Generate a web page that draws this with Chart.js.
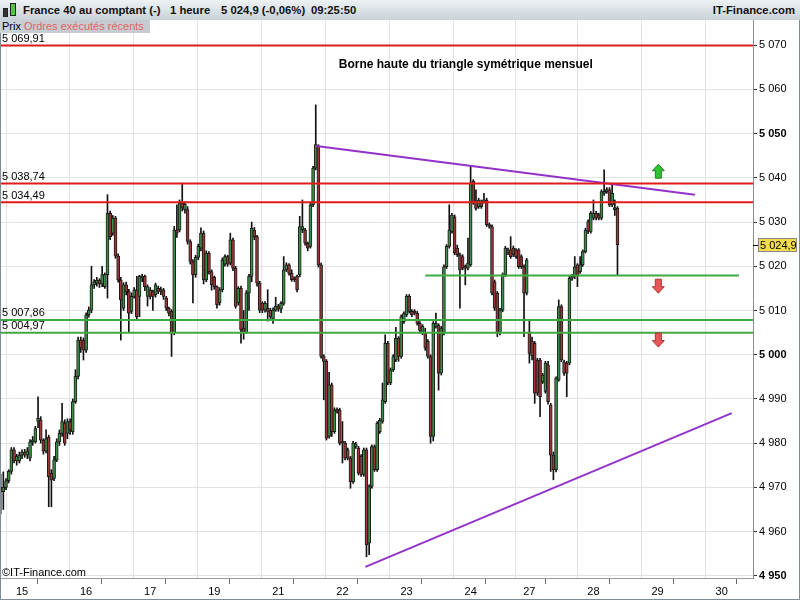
<!DOCTYPE html>
<html>
<head>
<meta charset="utf-8">
<script src="https://cdn.jsdelivr.net/npm/chart.js@4.4.0/dist/chart.umd.min.js"></script>
<style>
  html, body { margin: 0; padding: 0; background: #fff; overflow: hidden; }
  #wrap { position: relative; width: 800px; height: 600px; font-family: "Liberation Sans", Arial, sans-serif; }
  #c { position: absolute; left: 0; top: 0; }
  #head { position: absolute; left: 0; top: 0; width: 800px; height: 20px;
          background: linear-gradient(#eef2f4, #c8d2d8); font-size: 11.3px; font-weight: bold; color: #111; }
  #head span { position: absolute; top: 4px; white-space: nowrap; }
  .ic { position: absolute; border: 1px solid #222; }
  #tabs { position: absolute; left: 0; top: 20px; height: 13px; font-size: 11px; line-height: 13px; }
  #tabs span { position: absolute; top: 0; height: 13px; padding: 0 2px; white-space: nowrap; }
  #copy { position: absolute; left: 2px; top: 566px; font-size: 11px; color: #000; }
</style>
</head>
<body>
<div id="wrap">
  <canvas id="c" width="800" height="600"></canvas>
  <div id="head">
    <div class="ic" style="left:3px;top:8px;width:3px;height:7px;background:#333"></div>
    <div class="ic" style="left:10px;top:3px;width:4px;height:11px;background:#5ac24a"></div>
    <span style="left:23px">France 40 au comptant (-)</span>
    <span style="left:170px">1 heure</span>
    <span style="left:221px">5 024,9 (-0,06%)</span>
    <span style="left:311px">09:25:50</span>
    <span style="right:5px">IT-Finance.com</span>
  </div>
  <div id="tabs">
    <span style="left:0;width:18px;background:#c9d2d9;border-right:1px solid #9aa6ae;color:#000">Prix</span>
    <span style="left:22px;width:124px;background:#c6ccd2;color:#e06666">Ordres exécutés récents</span>
  </div>
  <div id="copy">©IT-Finance.com</div>
</div>
<script>
// France 40, 1 heure - une bougie par heure
var open = [
  4970, 4969, 4970, 4971.5, 4973.6, 4978.5, 4976, 4976, 4977.3, 4978,
  4977.3, 4976.6, 4980.3, 4980.3, 4984.9, 4985.2, 4980.7, 4978.2, 4981.3, 4973.2,
  4972, 4976.2, 4980.3, 4982.2, 4984.5, 4982.2, 4984.9, 4982.6, 4989.4, 4995.1,
  5003.3, 5003.3, 5001, 5009, 5010.1, 5015.8, 5016.2, 5016.8, 5016, 5015.4,
  5018.1, 5032, 5027.5, 5030.9, 5022.3, 5016.9, 5010.5, 5015.8, 5014.3, 5009.8,
  5013.2, 5014.7, 5013.2, 5017.3, 5017.7, 5013.2, 5014.7, 5014.3, 5013.5, 5015,
  5014.3, 5014.7, 5012.8, 5010.5, 5009.8, 5005, 5028.2, 5028.2, 5034.3, 5032.8,
  5032.8, 5025.6, 5021, 5018.1, 5022, 5024.1, 5027.5, 5016.9, 5023, 5018.8,
  5017.5, 5015.4, 5011.7, 5014.7, 5020.5, 5022.2, 5020.7, 5026, 5019.6, 5011.7,
  5015, 5006, 5005, 5014, 5017.7, 5028.2, 5026.7, 5016.2, 5011.6, 5010.1,
  5010.5, 5010.1, 5008.1, 5010.1, 5011, 5010.3, 5011.6, 5019.2, 5020.3, 5018.4,
  5017.3, 5017.7, 5018.1, 5028.3, 5028.2, 5025.2, 5024.5, 5033.9, 5042.2, 5047.2,
  5020.3, 4999.6, 4998.5, 4981.5, 4993.2, 4982.6, 4987.5, 4987.5, 4980.3, 4980,
  4978.5, 4976.6, 4971.3, 4979.2, 4978.9, 4977, 4972.9, 4978.5, 4957.4, 4970.2,
  4979.2, 4974, 4982.6, 4984.9, 4989.4, 5002.6, 4993.6, 4996.6, 4998.8, 5003.7,
  4999.6, 5007.5, 5009, 5013.2, 5009.8, 5009.8, 5009.4, 5007.1, 5004.9, 5004.9,
  5003, 4999.6, 4981.5, 5006.4, 5006.7, 4995.8, 5004.9, 5019.9, 5024.5, 5027.9,
  5031.2, 5024.1, 5022.6, 5022.2, 5019.9, 5019.6, 5020.3, 5039.2, 5034.6, 5033.5,
  5034.6, 5034.6, 5035, 5029.4, 5029, 5016.5, 5013.9, 5004.9, 5010.1, 5018.1,
  5023, 5023.7, 5024.1, 5023.7, 5023.7, 5022.2, 5019.9, 5013.9, 5005.2, 5003,
  5002.6, 4998.8, 4998.8, 4993.9, 4991.7, 4997.7, 4988.6, 4977.3, 4974, 4994.3,
  5010.9, 4998.4, 4998.1, 4998.1, 5017.3, 5017.7, 5020.3, 5018.8, 5020.3, 5023.3,
  5030.1, 5027.9, 5030.9, 5032, 5031.6, 5030.9, 5036.5, 5036.9, 5037.3, 5033.9,
  5032.8, 5033.1
];
var high = [
  4973, 4973.5, 4972, 4974, 4979, 4979, 4977.5, 4978, 4978.5, 4978.6,
  4979, 4980.8, 4981.5, 4983.8, 4990.5, 4986, 4981, 4983, 4981.8, 4974,
  4977, 4981, 4983, 4989, 4985.3, 4985.5, 4985.5, 4990, 4996.6, 5004,
  5004, 5003.8, 5009.5, 5010.8, 5020, 5017, 5017.5, 5017.2, 5020, 5018.5,
  5036.2, 5032.5, 5031.5, 5031.3, 5022.8, 5017.5, 5016.3, 5016.4, 5014.8, 5014,
  5015.2, 5017.7, 5018, 5018.2, 5018, 5015.8, 5015.2, 5014.6, 5016.2, 5015.5,
  5015.3, 5015, 5013.2, 5010.8, 5010.2, 5029, 5033.9, 5035, 5038.8, 5034.6,
  5033.5, 5026, 5021.5, 5022.5, 5025, 5028.7, 5028, 5023.5, 5023.3, 5019.2,
  5017.8, 5015.6, 5015.2, 5021.9, 5022.6, 5022.5, 5027.5, 5026.4, 5020, 5015.4,
  5015.5, 5010, 5014.5, 5018.2, 5030, 5028.8, 5027, 5016.6, 5012, 5012,
  5014.7, 5010.5, 5010.6, 5013, 5011.4, 5012, 5022.2, 5020.8, 5020.6, 5019.2,
  5017.6, 5018, 5031.3, 5035, 5028.6, 5025.5, 5034.3, 5042.6, 5056.5, 5047.5,
  5020.7, 5000, 4998.9, 4996, 4993.6, 4988, 4988, 4987.9, 4984.9, 4980.4,
  4978.9, 4977, 4980.4, 4980.2, 4979.3, 4977.4, 4978.9, 4978.9, 4970.6, 4979.6,
  4979.6, 4984.9, 4985.6, 4993.6, 5004.5, 5003, 4997, 5000, 5006.2, 5004.1,
  5009, 5009.7, 5013.6, 5013.6, 5010.2, 5010.2, 5009.8, 5007.5, 5006.8, 5006,
  5003.4, 5000, 5007.5, 5009.4, 5007, 5006.4, 5020.3, 5024.9, 5033.9, 5032,
  5031.6, 5024.8, 5023, 5022.6, 5020.3, 5026.4, 5042.6, 5039.6, 5037.3, 5035.4,
  5035, 5036.5, 5035.4, 5029.8, 5029.4, 5016.9, 5014.3, 5010.5, 5018.5, 5024.5,
  5024.1, 5026.7, 5024.6, 5024, 5024, 5022.6, 5020.3, 5021.8, 5007.9, 5004,
  5003, 4999.2, 4999.2, 4995.8, 4998.5, 4998.5, 4989, 4978, 4995, 5012.4,
  5011.3, 4998.8, 4998.5, 5017.8, 5018.2, 5022.2, 5020.6, 5022.2, 5023.7, 5028.6,
  5030.5, 5032.4, 5035, 5032.4, 5032, 5037.3, 5041.8, 5037.8, 5037.8, 5038.8,
  5035, 5033.5
];
var low = [
  4964, 4965, 4969.5, 4971, 4973, 4975.5, 4975, 4975.5, 4976.5, 4976.8,
  4976.5, 4976, 4979.5, 4980, 4983.5, 4980, 4977.5, 4977.8, 4965.6, 4965.6,
  4971.5, 4975.8, 4979.5, 4981.5, 4979.5, 4981, 4982, 4982, 4989, 4994.5,
  5000.5, 4998.8, 5000.5, 5008.5, 5009.5, 5015, 5015.5, 5015.2, 5015.4, 5015,
  5012.8, 5026, 5027, 5021.8, 5016.4, 5003.3, 5010, 5013.5, 5005.2, 5009.3,
  5012.8, 5008, 5008.6, 5016.5, 5014.5, 5011, 5012.6, 5010, 5013, 5013.8,
  5013.6, 5012.5, 5010, 5008.8, 4999.6, 5004.5, 5026.5, 5027.8, 5032.5, 5032,
  5025, 5020.5, 5011.7, 5017.5, 5021.5, 5023.5, 5016, 5016.5, 5018.2, 5014.6,
  5014.8, 5010.5, 5011.2, 5014.2, 5020, 5020, 5020.3, 5019, 5010.5, 5011.2,
  5002.6, 5003.5, 5004.8, 5010, 5016.5, 5026, 5015.5, 5009.5, 5009.5, 5009.6,
  5007.6, 5008.2, 5007.1, 5009.8, 5009.8, 5009.5, 5011.2, 5018.8, 5018, 5016.6,
  5016.5, 5014.2, 5017.6, 5027.6, 5024.8, 5023.5, 5024.1, 5033.5, 5041.8, 5019.8,
  4999.2, 4989.8, 4980.7, 4981.1, 4981.5, 4982.2, 4986.8, 4979.6, 4975.5, 4976.2,
  4976.2, 4969.8, 4970.9, 4978.8, 4972.8, 4972.5, 4972.5, 4954.3, 4954.8, 4969.8,
  4973.6, 4973.6, 4982.2, 4984.5, 4989, 4993.2, 4993.2, 4996.2, 4998.4, 4998.5,
  4999.2, 5007.1, 5008.6, 5009.4, 5008.6, 5009, 5006.7, 5004.9, 5004.5, 5001,
  4999.2, 4980, 4980.5, 5006, 4992, 4995.4, 5004.5, 5019.5, 5024.1, 5027.5,
  5022.6, 5022.2, 5010.5, 5019.2, 5015.8, 5019.2, 5020, 5034, 5032.7, 5033.1,
  5033.1, 5034.3, 5029, 5028.6, 5013.5, 5010, 5004.1, 5004.5, 5009.7, 5017.7,
  5022.6, 5021.8, 5022.2, 5021.8, 5019.5, 5019.5, 5004.1, 5013.5, 4998.1, 4998.8,
  4989, 4990.8, 4986, 4993.5, 4991.3, 4988.8, 4973.6, 4971.7, 4973.5, 4994,
  4998.4, 4995.3, 4990.5, 4997.7, 5016.8, 5017.2, 5015.4, 5018.4, 5020, 5023,
  5027.4, 5027.5, 5030.5, 5030.5, 5030.5, 5030.5, 5036, 5036.5, 5033.5, 5033.5,
  5031.5, 5018.1
];
var close = [
  4969, 4970, 4971.5, 4973.6, 4978.5, 4976, 4977, 4977.3, 4978, 4977.3,
  4978.2, 4980.3, 4980.6, 4983.3, 4985.6, 4980.7, 4978.2, 4981, 4972.4, 4971.7,
  4976.2, 4980.3, 4982.2, 4984.9, 4980, 4984.9, 4983, 4989.4, 4995.1, 5003.3,
  5001.5, 5001, 5009, 5010.1, 5015.8, 5016.5, 5016.8, 5016, 5018.1, 5018.1,
  5032, 5026.7, 5030.9, 5022.3, 5016.9, 5012.4, 5015.8, 5014.2, 5009.4, 5013.2,
  5014.7, 5008.6, 5017.7, 5017.7, 5015.4, 5015.4, 5013.2, 5013.2, 5015.8, 5014.3,
  5014.6, 5013.2, 5010.5, 5009.4, 5005, 5028.2, 5027.5, 5034.3, 5033.2, 5034,
  5025.6, 5021.1, 5018.1, 5022, 5024.5, 5027.5, 5016.9, 5023, 5018.8, 5015.8,
  5015.4, 5011.3, 5014.7, 5021.4, 5022.2, 5020.5, 5026, 5019.6, 5010.9, 5015,
  5005.6, 5005, 5014, 5017.7, 5028.6, 5026.7, 5016.2, 5010.1, 5010.1, 5011.6,
  5009.8, 5008.6, 5010.1, 5011, 5010.3, 5011.6, 5019.2, 5020.3, 5018.4, 5017,
  5017, 5014.7, 5029, 5029, 5025.2, 5024.1, 5033.9, 5042.2, 5047.5, 5020.3,
  4999.6, 4998.5, 4981.1, 4993.2, 4982.6, 4987.5, 4987.2, 4980, 4980, 4976.6,
  4976.6, 4971.3, 4980, 4979.8, 4973.2, 4972.9, 4978.5, 4957, 4970.2, 4979.2,
  4974, 4984.5, 4985.2, 4989.8, 5002.6, 4993.6, 4996.6, 4999.6, 5003.7, 4999.6,
  5008.6, 5009.3, 5013.2, 5009.8, 5009, 5009.4, 5007.1, 5005.5, 5006.4, 5001.5,
  4999.6, 4981.5, 5007.1, 5007.1, 4995.8, 5006, 5019.9, 5024.5, 5028.2, 5031.6,
  5023, 5022.6, 5019.2, 5019.6, 5019.6, 5020.7, 5038.8, 5034.3, 5033.1, 5035,
  5033.5, 5035, 5029.4, 5029, 5013.9, 5010.5, 5004.9, 5010.1, 5018.1, 5024.1,
  5023.7, 5022.2, 5022.6, 5022.2, 5019.9, 5019.9, 5013.9, 5021.4, 5000.3, 4999.8,
  4991.3, 4991.3, 4990.5, 4995.4, 4998.1, 4989.4, 4977.3, 4974, 4994.7, 5010.9,
  4998.8, 4995.8, 4995.8, 5017.3, 5017.7, 5019.9, 5018.1, 5020.3, 5023.3, 5028.2,
  5027.9, 5032, 5032, 5030.9, 5030.9, 5036.9, 5036.9, 5037.3, 5033.9, 5036.5,
  5033.1, 5024.9
];

// axe du temps : index de bougie
var dayTicks = [8, 32, 56, 80, 104, 128, 152, 176, 198, 222, 246, 270];
var dayLabels = ['15', '16', '17', '19', '21', '22', '23', '24', '27', '28', '29', '30'];
var sepTicks = [19.5, 43.3, 67.3, 91.6, 115.6, 139.3, 163.3, 187.3, 210.2, 234.2, 258.2, 281.5];

// niveaux traces
var redLevels = [5069.91, 5038.74, 5034.49];
var greenLevels = [5007.86, 5004.97];
var supportLevel = 5017.9;
var supportRange = [159, 276.5];
var upperTriangle = [[118.2, 5047.2], [260, 5036.2]];
var lowerTriangle = [[136.6, 4952], [273.8, 4986.8]];
var lastPrice = 5024.9;

var xMin = -0.25, xMax = 281.75;
var yMin = 4949.5, yMax = 5075.7;
var FONT = '"Liberation Sans", Arial, sans-serif';

function fmtInt(v) {
  var s = String(Math.round(v));
  return s.slice(0, -3) + ' ' + s.slice(-3);
}
function fmtDec(v, d) {
  var p = v.toFixed(d).split('.');
  return fmtInt(Number(p[0])) + ',' + p[1];
}

var wicks = close.map(function (c, i) { return { x: i, y: [low[i], high[i]] }; });
var bodies = close.map(function (c, i) { return { x: i, y: [open[i], close[i]] }; });

function hline(v, color, from, to) {
  return {
    type: 'line',
    data: [{ x: from, y: v }, { x: to, y: v }],
    borderColor: color, borderWidth: 2, pointRadius: 0, fill: false, order: 0
  };
}

var datasets = [
  { type: 'bar', data: wicks, backgroundColor: '#111', barThickness: 1, grouped: false, order: 2 },
  { type: 'bar', data: bodies, grouped: false, order: 1, barThickness: 3, minBarLength: 2,
    borderWidth: 1, borderColor: '#1c1c1c', borderSkipped: false,
    backgroundColor: function (c) { return close[c.dataIndex] >= open[c.dataIndex] ? '#3c8d45' : '#983838'; } }
];
redLevels.forEach(function (v) { datasets.push(hline(v, '#e01b1b', xMin, xMax)); });
greenLevels.forEach(function (v) { datasets.push(hline(v, '#40a940', xMin, xMax)); });
datasets.push(hline(supportLevel, '#40a940', supportRange[0], supportRange[1]));
[upperTriangle, lowerTriangle].forEach(function (t) {
  datasets.push({
    type: 'line',
    data: t.map(function (p) { return { x: p[0], y: p[1] }; }),
    borderColor: '#9232c8', borderWidth: 2, pointRadius: 0, fill: false, order: 0
  });
});

function arrow(ctx, cx, cy, up, fill, stroke) {
  var s = up ? -1 : 1;
  ctx.beginPath();
  ctx.moveTo(cx, cy + s * 7);
  ctx.lineTo(cx + 6, cy + s * 0.5);
  ctx.lineTo(cx + 3, cy + s * 0.5);
  ctx.lineTo(cx + 3, cy - s * 7);
  ctx.lineTo(cx - 3, cy - s * 7);
  ctx.lineTo(cx - 3, cy + s * 0.5);
  ctx.lineTo(cx - 6, cy + s * 0.5);
  ctx.closePath();
  ctx.fillStyle = fill;
  ctx.fill();
  ctx.strokeStyle = stroke;
  ctx.lineWidth = 1;
  ctx.stroke();
}

var overlay = {
  id: 'overlay',
  afterDatasetsDraw: function (chart) {
    var ctx = chart.ctx, x = chart.scales.x, y = chart.scales.y;
    ctx.save();
    ctx.font = '11px ' + FONT;
    ctx.fillStyle = '#000';
    ctx.textAlign = 'left';
    ctx.textBaseline = 'bottom';
    redLevels.concat(greenLevels).forEach(function (v) {
      ctx.fillText(fmtDec(v, 2), 2, y.getPixelForValue(v) - 1);
    });
    ctx.font = 'bold 12px ' + FONT;
    ctx.textAlign = 'center';
    ctx.textBaseline = 'middle';
    ctx.fillText('Borne haute du triangle symétrique mensuel', x.getPixelForValue(174.2), y.getPixelForValue(5065.6));
    var ax = x.getPixelForValue(246.3);
    arrow(ctx, ax, y.getPixelForValue(5041.5), true, '#2ec22e', '#2b7d2b');
    arrow(ctx, ax, y.getPixelForValue(5015.5), false, '#e65858', '#a83434');
    arrow(ctx, ax, y.getPixelForValue(5003.3), false, '#e65858', '#a83434');
    ctx.restore();
  },
  afterDraw: function (chart) {
    var ctx = chart.ctx, a = chart.chartArea, y = chart.scales.y;
    ctx.save();
    var py = Math.round(y.getPixelForValue(lastPrice));
    ctx.fillStyle = '#f2dc4a';
    ctx.fillRect(758, py - 7, 39, 14);
    ctx.strokeStyle = '#8a8a8a';
    ctx.lineWidth = 1;
    ctx.strokeRect(758.5, py - 6.5, 38, 13);
    ctx.strokeStyle = '#000';
    ctx.beginPath();
    ctx.moveTo(a.right, py + 0.5);
    ctx.lineTo(a.right + 5, py + 0.5);
    ctx.stroke();
    ctx.fillStyle = '#000';
    ctx.font = '11px ' + FONT;
    ctx.textAlign = 'left';
    ctx.textBaseline = 'middle';
    ctx.fillText(fmtDec(lastPrice, 1), 760, py + 0.5);
    ctx.strokeStyle = '#7d8c96';
    ctx.strokeRect(0.5, 0.5, 799, 599);
    ctx.restore();
  }
};

Chart.defaults.font.family = FONT;
Chart.defaults.font.size = 11;
Chart.defaults.color = '#000';

new Chart(document.getElementById('c').getContext('2d'), {
  type: 'bar',
  data: { datasets: datasets },
  options: {
    responsive: false,
    animation: false,
    devicePixelRatio: 1,
    layout: { padding: { left: 0, top: 20, right: 0, bottom: 0 } },
    plugins: { legend: { display: false }, tooltip: { enabled: false } },
    scales: {
      x: {
        type: 'linear', min: xMin, max: xMax, offset: false,
        afterBuildTicks: function (s) {
          s.ticks = dayTicks.concat(sepTicks).sort(function (a, b) { return a - b; })
            .map(function (v) { return { value: v }; });
        },
        afterFit: function (s) { s.height = 22; },
        ticks: {
          autoSkip: false, maxRotation: 0, padding: 1, color: '#000',
          callback: function (v) { var k = dayTicks.indexOf(v); return k >= 0 ? dayLabels[k] : ''; }
        },
        grid: {
          tickLength: 6,
          color: function (c) { return c.tick && dayTicks.indexOf(c.tick.value) >= 0 ? '#e3e3e3' : 'rgba(0,0,0,0)'; },
          tickColor: function (c) { return c.tick && sepTicks.indexOf(c.tick.value) >= 0 ? '#666' : 'rgba(0,0,0,0)'; }
        },
        border: { color: '#9a9a9a' }
      },
      y: {
        position: 'right', min: yMin, max: yMax,
        afterFit: function (s) { s.width = 47; },
        ticks: {
          stepSize: 10, includeBounds: false, padding: 2, color: '#000',
          callback: function (v) { return fmtInt(v); },
          font: function (c) {
            var b = c.tick && c.tick.value % 50 === 0;
            return { family: FONT, size: 11, weight: b ? 'bold' : 'normal' };
          }
        },
        grid: { color: '#e3e3e3', tickColor: '#333', tickLength: 4 },
        border: { color: '#8c8c8c' }
      }
    }
  },
  plugins: [overlay]
});
</script>
</body>
</html>
